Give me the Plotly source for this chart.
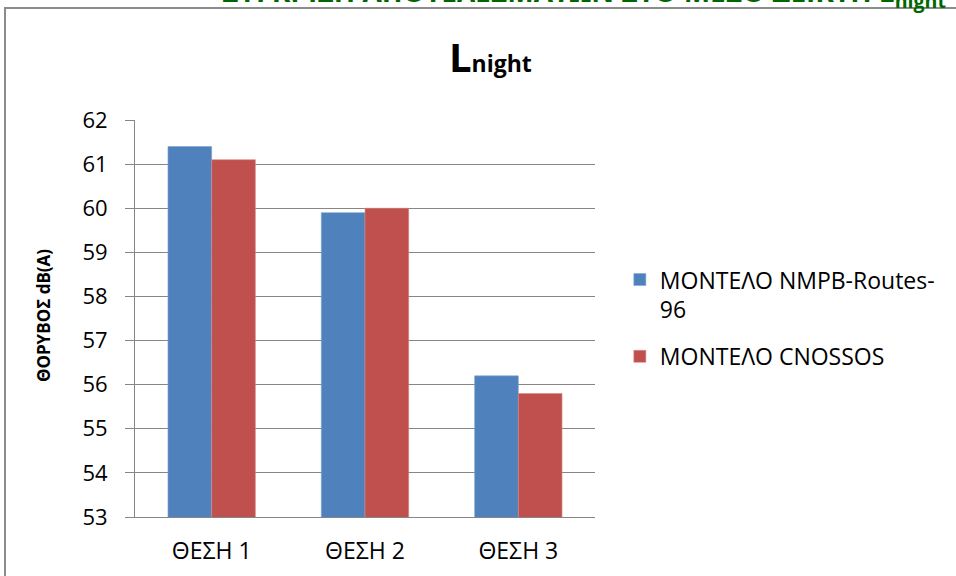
import plotly.graph_objects as go

# Données
positions = ['ΘΕΣΗ 1', 'ΘΕΣΗ 2', 'ΘΕΣΗ 3']
nmpb_values = [61.4, 59.9, 56.2]
cnossos_values = [61.1, 60.0, 55.8]
series_names = ['ΜΟΝΤΕΛΟ NMPB-Routes-<br>96', 'ΜΟΝΤΕΛΟ CNOSSOS']
y_ticks = list(range(53, 63))

FONT = 'Open Sans'
GRID = '#868686'

fig = go.Figure()

fig.add_trace(go.Bar(
    x=positions,
    y=nmpb_values,
    name=series_names[0],
    legendgroup='nmpb',
    marker=dict(color='#4F81BD', line=dict(color='#7FA3D1', width=0.6)),
))

fig.add_trace(go.Bar(
    x=positions,
    y=cnossos_values,
    name=series_names[1],
    legendgroup='cnossos',
    marker=dict(color='#C0504D', line=dict(color='#D88A88', width=0.6)),
))

# Titre du graphique
fig.add_annotation(
    x=0.772, y=1.085, xref='paper', yref='paper',
    xanchor='center', yanchor='bottom',
    text='<b>L</b><b><span style="font-size:23px">night</span></b>',
    showarrow=False, font=dict(family=FONT, size=40, color='black'),
)

# Titre de l'axe Y
fig.add_annotation(
    x=-0.2, y=0.506, xref='paper', yref='paper',
    xanchor='center', yanchor='middle',
    text='<b>ΘΟΡΥΒΟΣ dB(A)</b>', textangle=-90,
    showarrow=False, font=dict(family=FONT, size=17, color='black'),
)

# Titre vert coupé en haut de la page
fig.add_annotation(
    x=1.767, y=1.262, xref='paper', yref='paper',
    xanchor='right', yanchor='bottom',
    text='<b>ΣΥΓΚΡΙΣΗ ΑΠΟΤΕΛΕΣΜΑΤΩΝ ΣΤΟ ΜΕΣΟ ΔΕΙΚΤΗ L<sub>night</sub></b>',
    showarrow=False, font=dict(family=FONT, size=28, color='#006600'),
)

# Cadre du graphique
fig.add_shape(
    type='rect', xref='paper', yref='paper',
    x0=-0.2826, x1=1.95, y0=-0.3, y1=1.282,
    line=dict(color='#8C8C8C', width=2), fillcolor='rgba(0,0,0,0)',
    layer='below',
)

fig.update_layout(
    width=956,
    height=576,
    margin=dict(l=135, r=361, t=120, b=59, autoexpand=False),
    paper_bgcolor='white',
    plot_bgcolor='white',
    barmode='group',
    bargap=0.43,
    bargroupgap=0,
    font=dict(family=FONT, size=22, color='black'),
    showlegend=True,
    legend=dict(
        x=1.054, y=0.501, xanchor='left', yanchor='middle',
        font=dict(family=FONT, size=23),
        itemwidth=30,
        valign='top',
        tracegroupgap=14,
        bgcolor='rgba(0,0,0,0)',
    ),
    xaxis=dict(
        showline=True, linecolor=GRID, linewidth=1,
        ticks='', ticklabelstandoff=13,
        tickfont=dict(family=FONT, size=23),
        automargin=False,
    ),
    yaxis=dict(
        range=[53, 62],
        tickvals=y_ticks,
        showgrid=True, gridcolor=GRID, gridwidth=1,
        showline=True, linecolor=GRID, linewidth=1,
        ticks='outside', ticklen=9, tickcolor=GRID,
        ticklabelstandoff=13,
        tickfont=dict(family=FONT, size=22),
        zeroline=False,
        automargin=False,
    ),
)

# la page HTML ajoute une marge de 8px au body : on la retire
fig.write_html(
    "out.html",
    config={'displayModeBar': False},
    post_script="document.body.style.margin='0';",
)
